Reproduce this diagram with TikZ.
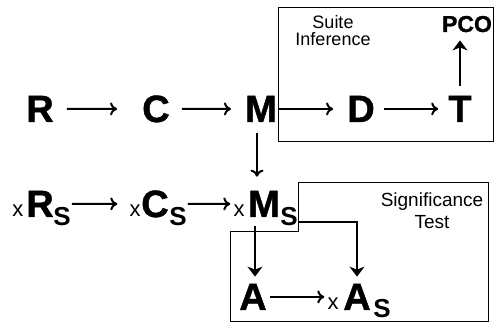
\documentclass[tikz,border=0pt]{standalone}
\usepackage{fontspec}
\setmainfont{Liberation Sans}
\newfontfamily\heavyfont[FakeBold=1.2]{Liberation Sans Bold}
\usetikzlibrary{arrows.meta}
\begin{document}
\begin{tikzpicture}[x=1pt,y=-1pt,
  big/.style={font=\fontsize{38}{38}\heavyfont, inner sep=0pt, anchor=base},
  pre/.style={font=\fontsize{22}{22}\selectfont, inner sep=0pt, anchor=base},
  sub/.style={font=\fontsize{26}{26}\selectfont\bfseries, inner sep=0pt, anchor=base},
  lbl/.style={font=\fontsize{18}{17}\selectfont, inner sep=0pt, align=center, anchor=base},
  pco/.style={font=\fontsize{23}{23}\heavyfont, inner sep=0pt, anchor=base},
  harr/.style={line width=2pt, -{Computer Modern Rightarrow[length=7pt,width=13pt,line width=2pt]}},
  farr/.style={line width=2pt, -{Stealth[length=10pt,width=15pt,inset=3pt]}},
  box/.style={line width=0.8pt}]
\useasboundingbox (0,0) rectangle (496,323);
% boxes
\draw[box] (278,7) rectangle (493,141);
\draw[box] (298,182) -- (488,182) -- (488,321) -- (230,321) -- (230,231) -- (298,231) -- cycle;
% labels
\node[lbl] (si) at (333,46) {Suite\\Inference};
\node[lbl, font=\fontsize{19}{22}\selectfont] (st) at (432,229) {Significance\\Test};
% row 1
\node[big] (R) at (40,122) {R};
\node[big] (C) at (156,122) {C};
\node[big] (M) at (261,122) {M};
\node[big] (D) at (361,122) {D};
\node[big] (T) at (460,122) {T};
\node[pco] (P) at (467,32) {PCO};
\draw[harr, shorten <=13pt, shorten >=25pt] (R) -- (C);
\draw[harr, shorten <=12pt, shorten >=14pt] (C) -- (M);
\draw[harr, shorten <=2pt, shorten >=14pt] (M) -- (D);
\draw[harr, shorten <=9pt, shorten >=10pt] (D) -- (T);
\draw[farr, shorten <=10pt, shorten >=8pt] (T) -- (T |- P.south);
% row 2
\node[big] (R2) at (40,217) {R};
\node[pre] (xR2) at (18,217) {x};
\node[sub] (sR2) at (62,226) {S};
\node[big] (C2) at (155,217) {C};
\node[pre] (xC2) at (135,217) {x};
\node[sub] (sC2) at (178,226) {S};
\node[big] (M2) at (264,217) {M};
\node[pre] (xM2) at (239,217) {x};
\node[sub] (sM2) at (289,226) {S};
\draw[harr, shorten <=1pt, shorten >=12pt] (sR2.east |- R2.east) -- (xC2.west |- C2.west);
\draw[harr, shorten <=1pt, shorten >=3pt] (sC2.east |- C2.east) -- (xM2.west |- M2.west);
\draw[harr, shorten <=11pt, shorten >=14pt] ([xshift=-4pt]M.south) -- ([xshift=-4pt]M.south |- M2.north);
% row 3
\node[big] (A) at (253,310) {A};
\node[big] (A2) at (357,310) {A};
\node[pre] (xA2) at (333,310) {x};
\node[sub] (sA2) at (382,318) {S};
\draw[harr, shorten <=3pt, shorten >=3pt] (A.east) -- (xA2.west |- A.east);
\draw[farr, shorten <=9pt, shorten >=7pt] ([xshift=2pt]M2.south -| A) -- ([xshift=2pt]A.north);
\draw[farr, shorten >=7pt] ([yshift=-14pt]sM2.north east) -| (A2.north);
\end{tikzpicture}
\end{document}
